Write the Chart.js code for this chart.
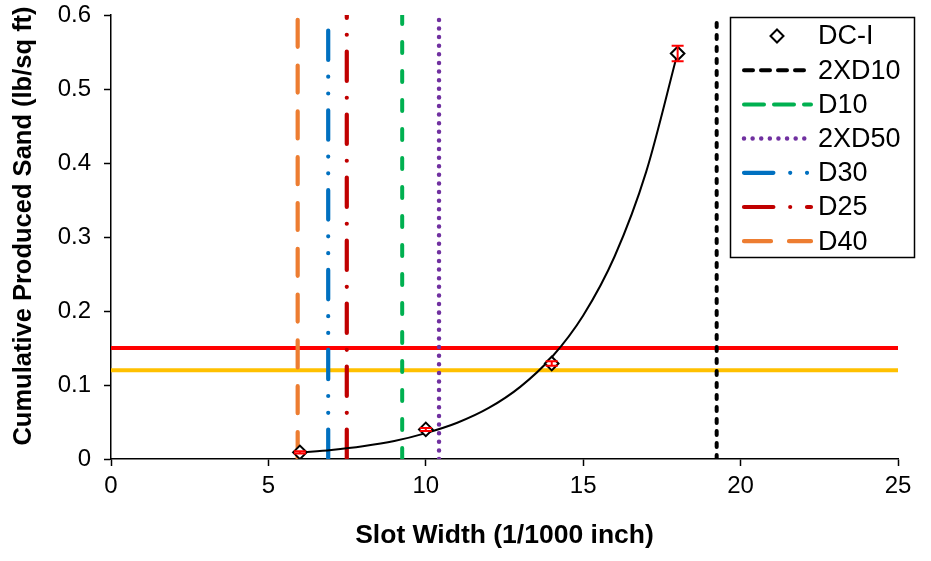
<!DOCTYPE html>
<html>
<head>
<meta charset="utf-8">
<script src="https://cdn.jsdelivr.net/npm/chart.js@4/dist/chart.umd.min.js"></script>
<style>
html,body{margin:0;padding:0;background:#fff;}
#wrap{width:931px;height:561px;}
</style>
</head>
<body>
<div id="wrap"><canvas id="c" width="931" height="561"></canvas></div>
<script>
// ---- data ----
const slotWidth = [6, 10, 14, 18];
const sandDCI = [0.009, 0.040, 0.129, 0.548];
const sandErr = [0.0015, 0.002, 0.003, 0.0105];
const trendX = [6, 7, 8, 9, 10, 11, 12, 13, 14, 15, 16, 17, 18];
const trendY = [0.0086, 0.0122, 0.0172, 0.0243, 0.0350, 0.0490, 0.0690, 0.0975, 0.1375, 0.194, 0.274, 0.388, 0.549];
const sizeNames = ['2XD10', 'D10', '2XD50', 'D30', 'D25', 'D40'];
const sizeX = [19.24, 9.25, 10.42, 6.90, 7.49, 5.93];
const limitY = [0.15, 0.12];
const xTickLabels = ['0', '5', '10', '15', '20', '25'];
const yTickLabels = ['0', '0.1', '0.2', '0.3', '0.4', '0.5', '0.6'];
const xTitle = 'Slot Width (1/1000 inch)';
const yTitle = 'Cumulative Produced Sand (lb/sq ft)';

// ---- styles ----
const FAMILY = '"Liberation Sans", Arial, sans-serif';
const lineStyles = {
  '2XD10': {color: '#000000', dash: [4, 8], legendDash: [9, 8], width: 4},
  'D10':   {color: '#00B050', dash: [11, 18], legendDash: [20, 10], width: 4},
  '2XD50': {color: '#7030A0', dash: [0.01, 8.6], width: 4.5},
  'D30':   {color: '#0070C0', dash: [29.4, 16.8, 0.01, 16.8, 0.01, 16.8], width: 4.2},
  'D25':   {color: '#C00000', dash: [29.4, 16.8, 0.01, 16.8], width: 4.2},
  'D40':   {color: '#ED7D31', dash: [27, 18.8], legendDash: [27, 18], width: 4.2}
};
const limitColors = ['#FF0000', '#FFC000'];

const datasets = [];
datasets.push({
  label: 'DC-I',
  data: slotWidth.map((x, i) => ({x: x, y: sandDCI[i]})),
  showLine: false,
  pointStyle: 'rectRot',
  pointRadius: 6.8,
  pointBorderWidth: 2,
  pointBorderColor: '#000',
  pointBackgroundColor: '#fff',
  inLegend: true,
  order: 0
});
datasets.push({
  label: 'trend',
  data: trendX.map((x, i) => ({x: x, y: trendY[i]})),
  borderColor: '#000',
  borderWidth: 2,
  pointRadius: 0,
  cubicInterpolationMode: 'monotone',
  inLegend: false,
  order: 1
});
sizeNames.forEach((n, i) => {
  const s = lineStyles[n];
  datasets.push({
    label: n,
    data: [{x: sizeX[i], y: 0}, {x: sizeX[i], y: 0.6}],
    borderColor: s.color,
    borderWidth: s.width,
    borderDash: s.dash,
    borderCapStyle: 'round',
    pointRadius: 0,
    inLegend: true,
    legendDash: s.legendDash || s.dash,
    order: 2 + i
  });
});
limitY.forEach((v, i) => {
  datasets.push({
    label: 'limit' + i,
    data: [{x: 0, y: v}, {x: 25, y: v}],
    borderColor: limitColors[i],
    borderWidth: 4,
    pointRadius: 0,
    inLegend: false,
    order: 20 + i
  });
});

const errorBarPlugin = {
  id: 'errorBars',
  afterDatasetsDraw(chart) {
    const ctx = chart.ctx;
    const xs = chart.scales.x, ys = chart.scales.y;
    ctx.save();
    ctx.strokeStyle = '#FF0000';
    ctx.lineWidth = 2;
    slotWidth.forEach((x, i) => {
      const px = xs.getPixelForValue(x);
      const y1 = ys.getPixelForValue(sandDCI[i] - sandErr[i]);
      const y2 = ys.getPixelForValue(sandDCI[i] + sandErr[i]);
      ctx.beginPath();
      ctx.moveTo(px, y1); ctx.lineTo(px, y2);
      ctx.moveTo(px - 6, y1); ctx.lineTo(px + 6, y1);
      ctx.moveTo(px - 6, y2); ctx.lineTo(px + 6, y2);
      ctx.stroke();
    });
    ctx.restore();
  }
};

const yTitlePlugin = {
  id: 'yTitle',
  afterDraw(chart) {
    const ctx = chart.ctx;
    ctx.save();
    ctx.translate(24, 226);
    ctx.rotate(-Math.PI / 2);
    ctx.font = 'bold 25.5px ' + FAMILY;
    ctx.fillStyle = '#000';
    ctx.textAlign = 'center';
    ctx.textBaseline = 'middle';
    ctx.fillText(yTitle, 0, 0);
    ctx.restore();
  }
};

const boxLegendPlugin = {
  id: 'boxLegend',
  afterDraw(chart) {
    const ctx = chart.ctx;
    const items = chart.data.datasets.filter(d => d.inLegend);
    const L = 730.5, T = 17.5, W = 184, H = 240;
    ctx.save();
    ctx.fillStyle = '#fff';
    ctx.fillRect(L, T, W, H);
    ctx.strokeStyle = '#000';
    ctx.lineWidth = 1.5;
    ctx.strokeRect(L, T, W, H);
    ctx.font = '27px ' + FAMILY;
    ctx.textBaseline = 'middle';
    ctx.textAlign = 'left';
    items.forEach((d, i) => {
      const y = 36 + i * 34.2;
      if (d.showLine === false) {
        ctx.save();
        ctx.setLineDash([]);
        ctx.strokeStyle = '#000';
        ctx.fillStyle = '#fff';
        ctx.lineWidth = 2;
        const cx = 777, r = 6.5;
        ctx.beginPath();
        ctx.moveTo(cx, y - r); ctx.lineTo(cx + r, y); ctx.lineTo(cx, y + r); ctx.lineTo(cx - r, y); ctx.closePath();
        ctx.fill(); ctx.stroke();
        ctx.restore();
      } else {
        ctx.save();
        ctx.strokeStyle = d.borderColor;
        ctx.lineWidth = d.borderWidth;
        ctx.lineCap = 'round';
        ctx.setLineDash(d.legendDash);
        ctx.beginPath();
        ctx.moveTo(744, y); ctx.lineTo(811, y);
        ctx.stroke();
        ctx.restore();
      }
      ctx.fillStyle = '#000';
      ctx.fillText(d.label, 818, y + 1);
    });
    ctx.restore();
  }
};

new Chart(document.getElementById('c'), {
  type: 'line',
  data: {datasets: datasets},
  options: {
    responsive: false,
    animation: false,
    devicePixelRatio: 1,
    layout: {padding: {top: 15, right: 33, left: 0, bottom: 0}},
    plugins: {legend: {display: false}, tooltip: {enabled: false}},
    scales: {
      x: {
        type: 'linear', min: 0, max: 25,
        ticks: {stepSize: 5, autoSkip: false, maxRotation: 0, color: '#000', padding: 6,
          font: {size: 24, family: FAMILY},
          callback: (v) => xTickLabels[Math.round(v / 5)]},
        grid: {drawOnChartArea: false, drawTicks: true, tickLength: 7, tickColor: '#000', tickWidth: 1.5},
        border: {display: true, color: '#000', width: 1.5},
        title: {display: true, text: xTitle, color: '#000',
          font: {size: 26.5, weight: 'bold', family: FAMILY}, padding: {top: 0, bottom: 9}},
        afterFit(s) { s.height = 102; s.paddingLeft = 0; s.paddingRight = 0; }
      },
      y: {
        type: 'linear', min: 0, max: 0.6,
        ticks: {stepSize: 0.1, color: '#000', padding: 13,
          font: {size: 24, family: FAMILY},
          callback: (v) => yTickLabels[Math.round(v * 10)]},
        grid: {drawOnChartArea: false, drawTicks: true, tickLength: 7, tickColor: '#000', tickWidth: 1.5},
        border: {display: true, color: '#000', width: 1.5},
        title: {display: false},
        afterFit(s) { s.width = 111; s.paddingTop = 0; s.paddingBottom = 0; }
      }
    }
  },
  plugins: [errorBarPlugin, yTitlePlugin, boxLegendPlugin]
});
</script>
</body>
</html>
